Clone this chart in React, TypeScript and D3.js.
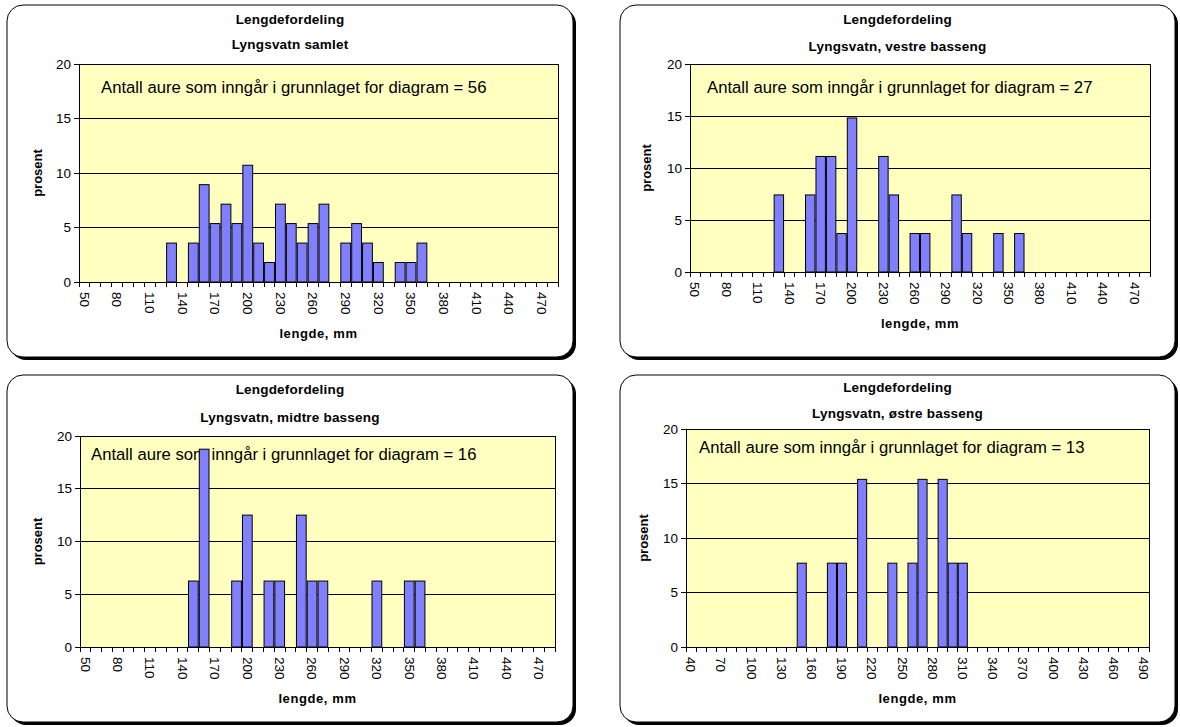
import React from "react";
import * as d3 from "d3";

// Length bins (lower bound of each 10 mm class) and axis labels
const binsA = d3.range(50, 490, 10); // 50 .. 480
const binsB = d3.range(40, 500, 10); // 40 .. 490
const tickLabelsA = [50, 80, 110, 140, 170, 200, 230, 260, 290, 320, 350, 380, 410, 440, 470];
const tickLabelsB = [40, 70, 100, 130, 160, 190, 220, 250, 280, 310, 340, 370, 400, 430, 460, 490];
const yTicks = [0, 5, 10, 15, 20];

// Lyngsvatn samlet (n = 56)
const samletLength = [130, 150, 160, 170, 180, 190, 200, 210, 220, 230, 240, 250, 260, 270, 290, 300, 310, 320, 340, 350, 360];
const samletPct = [3.57, 3.57, 8.93, 5.36, 7.14, 5.36, 10.71, 3.57, 1.79, 7.14, 5.36, 3.57, 5.36, 7.14, 3.57, 5.36, 3.57, 1.79, 1.79, 1.79, 3.57];

// Vestre basseng (n = 27)
const vestreLength = [130, 160, 170, 180, 190, 200, 230, 240, 260, 270, 300, 310, 340, 360];
const vestrePct = [7.41, 7.41, 11.11, 11.11, 3.7, 14.81, 11.11, 7.41, 3.7, 3.7, 7.41, 3.7, 3.7, 3.7];

// Midtre basseng (n = 16)
const midtreLength = [150, 160, 190, 200, 220, 230, 250, 260, 270, 320, 350, 360];
const midtrePct = [6.25, 18.75, 6.25, 12.5, 6.25, 6.25, 12.5, 6.25, 6.25, 6.25, 6.25, 6.25];

// Østre basseng (n = 13)
const ostreLength = [150, 180, 190, 210, 240, 260, 270, 290, 300, 310];
const ostrePct = [7.69, 7.69, 7.69, 15.38, 7.69, 7.69, 15.38, 15.38, 7.69, 7.69];

const FONT = "'Liberation Sans', Arial, sans-serif";

type Box = { x: number; y: number; w: number; h: number };
type Plot = { l: number; r: number; t: number; b: number };

interface PanelProps {
  box: Box;
  plot: Plot;
  title2: string;
  titleY: [number, number];
  note: string;
  noteX: number;
  noteY: number;
  bins: number[];
  tickLabels: number[];
  lengths: number[];
  pct: number[];
  yLabelX: number;
  xTitleY: number;
}

function Panel(p: PanelProps) {
  const { box, plot } = p;
  const x = d3.scaleBand<number>().domain(p.bins).range([plot.l, plot.r]).padding(0);
  const y = d3.scaleLinear().domain([0, 20]).range([plot.b, plot.t]);
  const bw = x.bandwidth();
  const barW = bw * 0.9;
  const cx = (box.x + box.x + box.w) / 2;
  const plotCx = (plot.l + plot.r) / 2;
  const plotCy = (plot.t + plot.b) / 2;
  const bars = p.lengths.map((len, i) => ({ len, v: p.pct[i] }));

  return (
    <g>
      {/* frame with drop shadow */}
      <rect x={box.x + 3} y={box.y + 3} width={box.w} height={box.h} rx={16} fill="#000" />
      <rect x={box.x} y={box.y} width={box.w} height={box.h} rx={16} fill="#fff" stroke="#000" strokeWidth={1} />

      {/* titles */}
      <text x={cx} y={p.titleY[0]} textAnchor="middle" fontFamily={FONT} fontWeight="bold" fontSize={13.5} letterSpacing={0.2}>
        Lengdefordeling
      </text>
      <text x={cx} y={p.titleY[1]} textAnchor="middle" fontFamily={FONT} fontWeight="bold" fontSize={13.5} letterSpacing={0.2}>
        {p.title2}
      </text>

      {/* plot area */}
      <rect x={plot.l} y={plot.t} width={plot.r - plot.l} height={plot.b - plot.t} fill="#FFFFC0" />
      {yTicks.slice(1).map((t) => (
        <line key={t} x1={plot.l} x2={plot.r} y1={y(t)} y2={y(t)} stroke="#000" strokeWidth={1} shapeRendering="crispEdges" />
      ))}
      <line x1={plot.r} x2={plot.r} y1={plot.t} y2={plot.b} stroke="#000" strokeWidth={1} shapeRendering="crispEdges" />

      <text x={p.noteX} y={p.noteY} fontFamily={FONT} fontSize={16.7}>
        {p.note}
      </text>

      {/* bars */}
      {bars.map((d) => (
        <rect
          key={d.len}
          x={(x(d.len) as number) + (bw - barW) / 2}
          y={y(d.v)}
          width={barW}
          height={y(0) - y(d.v)}
          fill="#8080FF"
          stroke="#000"
          strokeWidth={1}
        />
      ))}

      {/* y axis */}
      <line x1={plot.l} x2={plot.l} y1={plot.t} y2={plot.b} stroke="#000" strokeWidth={1} shapeRendering="crispEdges" />
      {yTicks.map((t) => (
        <g key={t}>
          <line x1={plot.l - 5} x2={plot.l} y1={y(t)} y2={y(t)} stroke="#000" shapeRendering="crispEdges" />
          <text x={plot.l - 8} y={y(t)} dy="0.35em" textAnchor="end" fontFamily={FONT} fontSize={13.5}>
            {t}
          </text>
        </g>
      ))}
      <text
        transform={`translate(${p.yLabelX},${plotCy}) rotate(-90)`}
        textAnchor="middle"
        dy="0.35em"
        fontFamily={FONT}
        fontWeight="bold"
        fontSize={13}
      >
        prosent
      </text>

      {/* x axis */}
      <line x1={plot.l} x2={plot.r} y1={plot.b} y2={plot.b} stroke="#000" strokeWidth={1} shapeRendering="crispEdges" />
      {p.bins.concat([p.bins[p.bins.length - 1] + 10]).map((b, i) => {
        const xx = plot.l + i * bw;
        return <line key={b} x1={xx} x2={xx} y1={plot.b} y2={plot.b + 5} stroke="#000" shapeRendering="crispEdges" />;
      })}
      {p.tickLabels.map((t) => (
        <text
          key={t}
          transform={`translate(${(x(t) as number) + bw / 2},${plot.b + 10}) rotate(90)`}
          dy="0.35em"
          textAnchor="start"
          fontFamily={FONT}
          fontSize={13.5}
        >
          {t}
        </text>
      ))}
      <text x={plotCx} y={p.xTitleY} textAnchor="middle" fontFamily={FONT} fontWeight="bold" fontSize={13} letterSpacing={0.6}>
        lengde, mm
      </text>
    </g>
  );
}

export default function App() {
  return (
    <svg
      width={1180}
      height={727}
      viewBox="0 0 1180 727"
      style={{ position: "absolute", left: 0, top: 0, background: "#fff" }}
    >
      <Panel
        box={{ x: 7, y: 5, w: 566, h: 352 }}
        plot={{ l: 79, r: 558, t: 64, b: 282 }}
        title2="Lyngsvatn samlet"
        titleY={[24, 49]}
        note="Antall aure som inngår i grunnlaget for diagram = 56"
        noteX={101}
        noteY={93}
        bins={binsA}
        tickLabels={tickLabelsA}
        lengths={samletLength}
        pct={samletPct}
        yLabelX={37}
        xTitleY={338}
      />
      <Panel
        box={{ x: 620, y: 5, w: 555, h: 352 }}
        plot={{ l: 690, r: 1150, t: 64, b: 272 }}
        title2="Lyngsvatn, vestre basseng"
        titleY={[24, 51]}
        note="Antall aure som inngår i grunnlaget for diagram = 27"
        noteX={707}
        noteY={93}
        bins={binsA}
        tickLabels={tickLabelsA}
        lengths={vestreLength}
        pct={vestrePct}
        yLabelX={646}
        xTitleY={328}
      />
      <Panel
        box={{ x: 7, y: 375, w: 566, h: 347 }}
        plot={{ l: 80, r: 555, t: 436, b: 647 }}
        title2="Lyngsvatn, midtre basseng"
        titleY={[394, 422]}
        note="Antall aure som inngår i grunnlaget for diagram = 16"
        noteX={91}
        noteY={460}
        bins={binsA}
        tickLabels={tickLabelsA}
        lengths={midtreLength}
        pct={midtrePct}
        yLabelX={37}
        xTitleY={703}
      />
      <Panel
        box={{ x: 620, y: 375, w: 555, h: 347 }}
        plot={{ l: 686, r: 1149, t: 429, b: 647 }}
        title2="Lyngsvatn, østre basseng"
        titleY={[392, 418]}
        note="Antall aure som inngår i grunnlaget for diagram = 13"
        noteX={699}
        noteY={453}
        bins={binsB}
        tickLabels={tickLabelsB}
        lengths={ostreLength}
        pct={ostrePct}
        yLabelX={643}
        xTitleY={703}
      />
    </svg>
  );
}
